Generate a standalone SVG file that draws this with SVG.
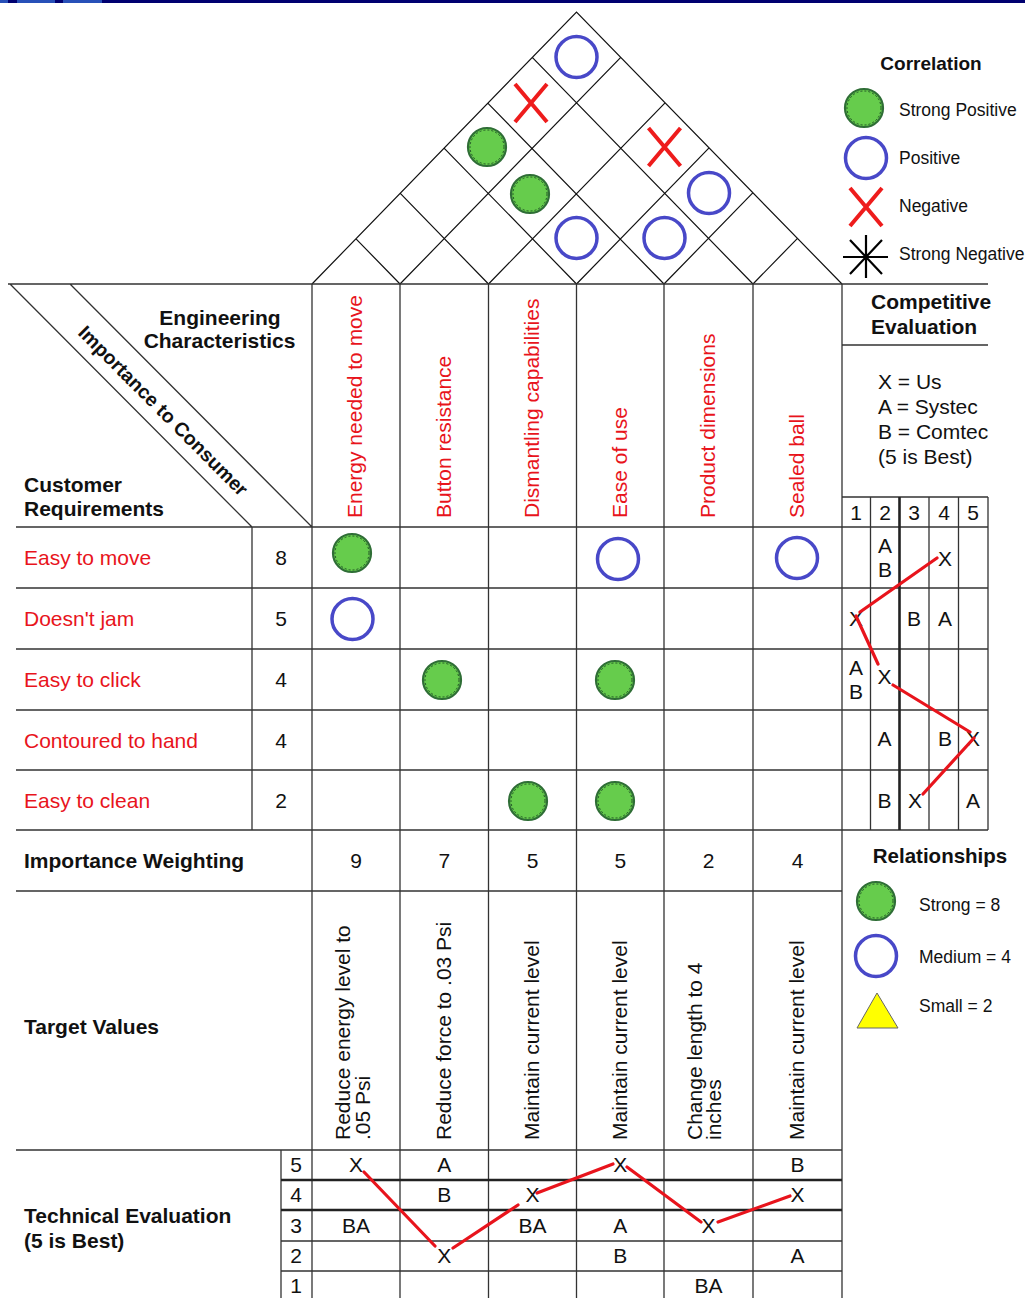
<svg xmlns="http://www.w3.org/2000/svg" width="1025" height="1298" viewBox="0 0 1025 1298">
<defs>
<style>
text { font-family: "Liberation Sans", Arial, sans-serif; font-size: 21px; fill: #111; }
.b { font-weight: bold; }
.red { fill: #e8141c; }
.lg { font-size: 17.5px; }
.c { text-anchor: middle; }
.grid { stroke: #333; stroke-width: 1.3; fill: none; }
.thick { stroke: #222; stroke-width: 2.6; fill: none; }
.roof { stroke: #111; stroke-width: 1.2; fill: none; }
.pos { fill: #fff; stroke: #4848c8; stroke-width: 3.5; }
.sp { fill: #66cc4c; stroke: #2f6e36; stroke-width: 2.2; }
.spd { fill: none; stroke: #1c4a22; stroke-width: 0.9; stroke-dasharray: 2 2; }
.neg { stroke: #ee1c1c; stroke-width: 4; fill: none; }
.trend { stroke: #e8141c; stroke-width: 3.2; fill: none; stroke-linecap: round; }
</style>
<g id="strong"><circle r="19" class="sp"/><circle r="17" class="spd"/></g>
<circle id="medium" r="20.5" class="pos"/>
<path id="negx" d="M-16,-19 L16,19 M16,-19 L-16,19" class="neg"/>
</defs>

<rect width="1025" height="1298" fill="#fff"/>

<!-- title bar -->
<g id="title-bar">
<rect x="0" y="0" width="1025" height="3" fill="#000070"/>
<rect x="0" y="0" width="8" height="3" fill="#2850b8"/>
<rect x="17" y="0" width="38" height="3" fill="#2850b8"/>
<rect x="63" y="0" width="39" height="3" fill="#2850b8"/>
</g>

<!-- correlation roof -->
<g id="roof">
<path class="roof" d="M312,284 L576.5,12 L842,284
M400,284 L621,57.2 M400,284 L356,238.8
M488.5,284 L665.3,102.6 M488.5,284 L400.3,193.4
M576.5,284 L709.3,147.7 M576.5,284 L444.3,148.3
M664,284 L753,192.7 M664,284 L488,103.4
M753,284 L797.5,238.3 M753,284 L532.5,57.7"/>
<use href="#medium" x="576.5" y="57"/>
<use href="#negx" x="531" y="103"/>
<use href="#strong" x="487" y="147"/>
<use href="#strong" x="530" y="194"/>
<use href="#medium" x="576.5" y="238"/>
<use href="#negx" x="664.5" y="147"/>
<use href="#medium" x="709" y="193"/>
<use href="#medium" x="664.5" y="238"/>
</g>

<!-- correlation legend -->
<g id="correlation-legend">
<text x="931" y="70" class="b c" style="font-size:19px">Correlation</text>
<use href="#strong" x="864" y="108"/>
<text x="899" y="116" class="lg">Strong Positive</text>
<use href="#medium" x="866" y="158"/>
<text x="899" y="164" class="lg">Positive</text>
<use href="#negx" x="866" y="207"/>
<text x="899" y="212" class="lg">Negative</text>
<path d="M843,257 L888,257 M866,235 L866,278 M850,240 L882,274 M882,240 L850,274" stroke="#000" stroke-width="2.2" fill="none"/>
<text x="899" y="260" class="lg">Strong Negative</text>
</g>

<!-- grid -->
<g id="grid">
<path class="grid" d="M8,284 H988 M16,527 H988 M16,588 H988 M16,649 H988 M16,710 H988 M16,770 H988 M16,830 H988
M16,891 H842 M16,1150 H842 M281,1241 H842 M281,1271 H842 M842,345 H988 M842,497 H988
M252,527 V830 M281,1150 V1298 M312,284 V1298 M400,284 V1298 M488.5,284 V1298 M576.5,284 V1298
M664,284 V1298 M753,284 V1298 M842,284 V1298
M870.5,497 V830 M929,497 V830 M958.5,497 V830 M988,497 V830
M10,284 L252,527 M70,284 L312,527"/>
<path class="thick" d="M281,1180 H842 M281,1210 H842 M899.5,497 V830"/>
</g>

<!-- header -->
<g id="header">
<text x="220" y="325" class="b c">Engineering</text>
<text x="219.5" y="348" class="b c">Characteristics</text>
<text x="24" y="492" class="b">Customer</text>
<text x="24" y="516" class="b">Requirements</text>
<text transform="translate(158.5 415.5) rotate(45.1)" class="b c" style="font-size:19.5px">Importance to Consumer</text>
</g>

<!-- engineering characteristics -->
<g id="characteristics">
<text transform="translate(362 518) rotate(-90)" class="red">Energy needed to move</text>
<text transform="translate(451 518) rotate(-90)" class="red">Button resistance</text>
<text transform="translate(539 518) rotate(-90)" class="red">Dismantling capabilities</text>
<text transform="translate(627 518) rotate(-90)" class="red">Ease of use</text>
<text transform="translate(715 518) rotate(-90)" class="red">Product dimensions</text>
<text transform="translate(804 518) rotate(-90)" class="red">Sealed ball</text>
</g>

<!-- customer requirements -->
<g id="requirements">
<text x="24" y="565" class="red">Easy to move</text>
<text x="24" y="626" class="red">Doesn't jam</text>
<text x="24" y="687" class="red">Easy to click</text>
<text x="24" y="747.5" class="red">Contoured to hand</text>
<text x="24" y="808" class="red">Easy to clean</text>
<text x="281" y="565" class="c">8</text>
<text x="281" y="626" class="c">5</text>
<text x="281" y="687" class="c">4</text>
<text x="281" y="747.5" class="c">4</text>
<text x="281" y="808" class="c">2</text>
</g>

<!-- relationship matrix -->
<g id="matrix">
<use href="#strong" x="352" y="553"/>
<use href="#medium" x="618" y="559"/>
<use href="#medium" x="797" y="558"/>
<use href="#medium" x="352.5" y="619"/>
<use href="#strong" x="442" y="680"/>
<use href="#strong" x="615" y="680"/>
<use href="#strong" x="528" y="801"/>
<use href="#strong" x="615" y="801"/>
</g>

<!-- competitive evaluation -->
<g id="competitive-evaluation">
<text x="871" y="309" class="b">Competitive</text>
<text x="871" y="334" class="b">Evaluation</text>
<text x="878" y="389">X = Us</text>
<text x="878" y="414">A = Systec</text>
<text x="878" y="439">B = Comtec</text>
<text x="878" y="464">(5 is Best)</text>
<text x="856" y="520" class="c">1</text>
<text x="885" y="520" class="c">2</text>
<text x="914" y="520" class="c">3</text>
<text x="944" y="520" class="c">4</text>
<text x="973" y="520" class="c">5</text>
<text x="885" y="553" class="c">A</text>
<text x="885" y="577" class="c">B</text>
<text x="945" y="565.5" class="c">X</text>
<text x="856" y="625.5" class="c">X</text>
<text x="914" y="625.5" class="c">B</text>
<text x="945" y="625.5" class="c">A</text>
<text x="856" y="675" class="c">A</text>
<text x="856" y="698.5" class="c">B</text>
<text x="884.5" y="684" class="c">X</text>
<text x="884.5" y="746" class="c">A</text>
<text x="945" y="746" class="c">B</text>
<text x="973" y="746" class="c">X</text>
<text x="884.5" y="807.5" class="c">B</text>
<text x="915" y="807.5" class="c">X</text>
<text x="973" y="807.5" class="c">A</text>
</g>

<!-- importance weighting and target values -->
<g id="weighting">
<text x="24" y="868" class="b">Importance Weighting</text>
<text x="356" y="868" class="c">9</text>
<text x="444.3" y="868" class="c">7</text>
<text x="532.5" y="868" class="c">5</text>
<text x="620.3" y="868" class="c">5</text>
<text x="708.5" y="868" class="c">2</text>
<text x="797.5" y="868" class="c">4</text>
</g>

<g id="target-values">
<text x="24" y="1034" class="b">Target Values</text>
<text transform="translate(350 1140) rotate(-90)">Reduce energy level to</text>
<text transform="translate(370 1140) rotate(-90)">.05 Psi</text>
<text transform="translate(451 1140) rotate(-90)">Reduce force to .03 Psi</text>
<text transform="translate(539 1140) rotate(-90)">Maintain current level</text>
<text transform="translate(627 1140) rotate(-90)">Maintain current level</text>
<text transform="translate(702 1140) rotate(-90)">Change length to 4</text>
<text transform="translate(721 1140) rotate(-90)">inches</text>
<text transform="translate(804 1140) rotate(-90)">Maintain current level</text>
</g>

<!-- technical evaluation -->
<g id="technical-evaluation">
<text x="24" y="1223" class="b">Technical Evaluation</text>
<text x="24" y="1248" class="b">(5 is Best)</text>
<text x="296" y="1172" class="c">5</text>
<text x="296" y="1202" class="c">4</text>
<text x="296" y="1233" class="c">3</text>
<text x="296" y="1263" class="c">2</text>
<text x="296" y="1292.5" class="c">1</text>
<text x="356" y="1172" class="c">X</text>
<text x="356" y="1233" class="c">BA</text>
<text x="444.3" y="1172" class="c">A</text>
<text x="444.3" y="1202" class="c">B</text>
<text x="444.3" y="1263" class="c">X</text>
<text x="532.5" y="1202" class="c">X</text>
<text x="532.5" y="1233" class="c">BA</text>
<text x="620.3" y="1172" class="c">X</text>
<text x="620.3" y="1233" class="c">A</text>
<text x="620.3" y="1263" class="c">B</text>
<text x="708.5" y="1233" class="c">X</text>
<text x="708.5" y="1292.5" class="c">BA</text>
<text x="797.5" y="1172" class="c">B</text>
<text x="797.5" y="1202" class="c">X</text>
<text x="797.5" y="1263" class="c">A</text>
</g>

<!-- relationships legend -->
<g id="relationships-legend">
<text x="940" y="863" class="b c" style="font-size:20.5px">Relationships</text>
<use href="#strong" x="876" y="901"/>
<text x="919" y="911" class="lg">Strong = 8</text>
<use href="#medium" x="876" y="956"/>
<text x="919" y="963" class="lg">Medium = 4</text>
<polygon points="877,993 857,1028 898,1028" fill="#ffff00" stroke="#666" stroke-width="1"/>
<text x="919" y="1012" class="lg">Small = 2</text>
</g>

<!-- evaluation trend connectors -->
<g id="connectors" class="trend">
<path d="M937,558 L860,612 M856,616 L878,664 M893,685 L970,732 M974,738 L923,794"/>
<path d="M364,1172 L435,1246 M453,1248 L518,1205 M537,1193 L613,1164 M627,1167 L701,1222 M718,1222 L790,1196"/>
</g>
</svg>
